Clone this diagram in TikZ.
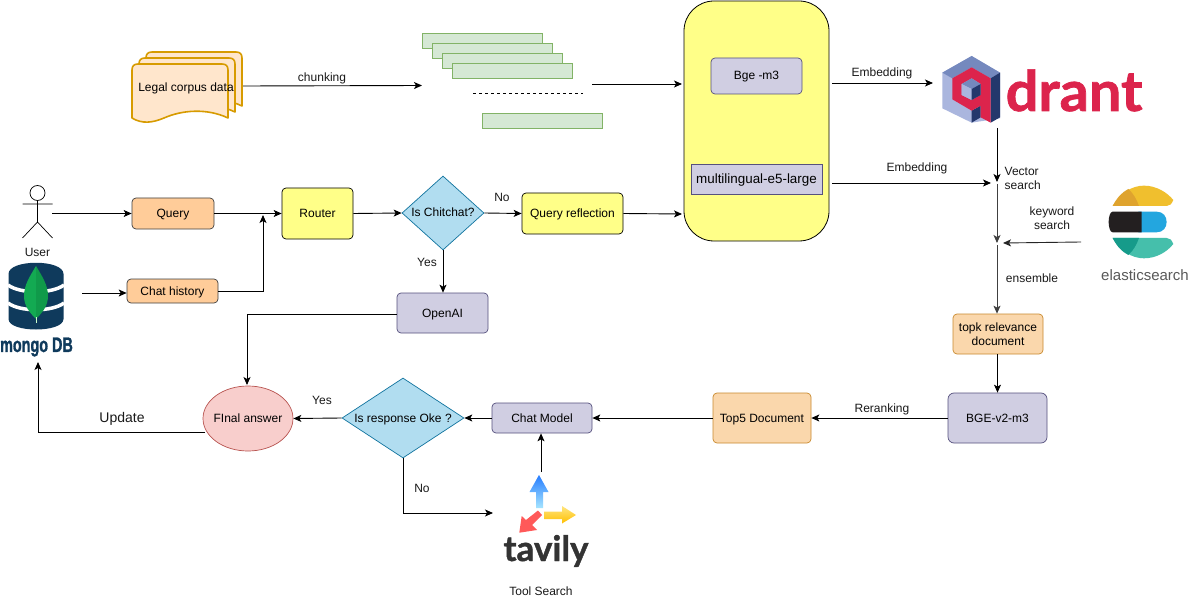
\documentclass[tikz,border=0pt]{standalone}
\usepackage{fontspec}
\setmainfont{Liberation Sans}
\newfontfamily\logofont[FakeBold=1.2]{Lato Bold}
\newfontfamily\mongofont[FakeBold=1.4]{Liberation Sans Bold}
\usetikzlibrary{arrows.meta,shapes.geometric}
\definecolor{peach}{HTML}{FFCC99}
\definecolor{peachb}{HTML}{FAD7AC}
\definecolor{peachd}{HTML}{C98A2E}
\definecolor{lemon}{HTML}{FFFF88}
\definecolor{lav}{HTML}{D0CEE2}
\definecolor{lavb}{HTML}{56517E}
\definecolor{sky}{HTML}{B1DDF0}
\definecolor{skyb}{HTML}{10739E}
\definecolor{mint}{HTML}{D5E8D4}
\definecolor{mintb}{HTML}{82B366}
\definecolor{navy}{HTML}{0F3A5C}
\definecolor{qred}{HTML}{DC244C}
\definecolor{qdark}{HTML}{24386C}
\definecolor{qmid}{HTML}{7589BE}
\definecolor{qlight}{HTML}{AAB6DE}
\definecolor{docfill}{HTML}{FFE6CC}
\definecolor{docline}{HTML}{D79B00}
\definecolor{rosefill}{HTML}{F8CECC}
\definecolor{roseline}{HTML}{B85450}
\definecolor{eyellow}{HTML}{F0BF2E}
\definecolor{eyellowd}{HTML}{DFA32E}
\definecolor{eblue}{HTML}{23A6DF}
\definecolor{eblack}{HTML}{231F20}
\definecolor{eteal}{HTML}{45BFAB}
\definecolor{etheald}{HTML}{169B8A}
\definecolor{leafa}{HTML}{13AA52}
\definecolor{leafb}{HTML}{109A4A}
\tikzset{
  arr/.style={draw=black,line width=.9pt,-{Stealth[length=8pt,width=7pt,inset=2pt]}},
  oneline/.style={text height=9pt,text depth=1pt},
  lblm/.style={font=\fontsize{12}{14}\selectfont,text=black!90,align=center,inner sep=0pt},
  lbl/.style={lblm,oneline},
  boxm/.style={rounded corners=4pt,font=\fontsize{12}{14}\selectfont,align=center,inner sep=0pt,line width=.7pt},
  box/.style={boxm,oneline},
  orangebox/.style={box,draw=black!75,fill=peach},
  orangesoft/.style={draw=peachd,fill=peachb},
  yellowbox/.style={box,draw=black,fill=lemon},
  lavbox/.style={box,draw=lavb,fill=lav},
  chunk/.style={draw=mintb,fill=mint,line width=.8pt,minimum width=120pt,minimum height=15pt,inner sep=0pt},
  deci/.style={diamond,aspect=1,draw=skyb,fill=sky,font=\fontsize{12}{14}\selectfont,inner sep=0pt,line width=.7pt,oneline},
  docsheet/.style={draw=docline,fill=docfill,line width=1.6pt,line join=round},
}
\newcommand{\docpath}{(0,12) .. controls (0,8) and (2,6) .. (6,6) -- (90,6) .. controls (94,6) and (96,8) .. (96,12) -- (96,60) .. controls (75,50) and (50,52) .. (32,60) .. controls (20,65) and (10,66) .. (0,60) -- cycle}
\begin{document}
\begin{tikzpicture}[x=1pt,y=-1pt]
\useasboundingbox (0,0) rectangle (1203,607);
\fill[white] (0,0) rectangle (1203,607);

% legal corpus stack
\begin{scope}[shift={(146,46)}]\draw[docsheet] \docpath;\end{scope}
\begin{scope}[shift={(139,52)}]\draw[docsheet] \docpath;\end{scope}
\begin{scope}[shift={(132,58)}]\draw[docsheet] \docpath;\end{scope}
\node[lbl,text=black] (legal) at (186,88) {Legal corpus data};
\coordinate (legalout) at (243,86);
\coordinate (chunkin) at (422,85.5);
\draw[arr] (legalout) -- (chunkin);
\node[lbl] (chunking) at (322,78) {chunking};

% chunks
\node[chunk] (c1) at (482.5,40.5) {};
\node[chunk] (c2) at (492.5,50.5) {};
\node[chunk] (c3) at (502.5,60.5) {};
\node[chunk] (c4) at (512.5,70.5) {};
\node[chunk] (c5) at (542.5,120.5) {};
\coordinate (dashl) at (473,93);
\coordinate (dashr) at (583,93);
\draw[dashed,line width=.8pt,dash pattern=on 3pt off 3pt] (dashl) -- (dashr);
\coordinate (chunkout) at (592,84);

% embedding block
\node[draw=black,fill=lemon,rounded corners=30pt,minimum width=145pt,minimum height=240pt,inner sep=0pt,line width=.8pt] (embed) at (756.5,121) {};
\node[lavbox,minimum width=91pt,minimum height=36pt] (bge) at (756.5,76) {Bge -m3};
\node[draw=lavb,fill=lav,minimum width=131pt,minimum height=30pt,inner sep=0pt,font=\fontsize{13.4}{15}\selectfont,line width=.7pt,text height=9.6pt,text depth=1pt] (multi) at (756.5,179) {multilingual-e5-large};
\coordinate (embedinA) at (682,84);
\draw[arr] (chunkout) -- (embedinA);
\coordinate (embedoutA) at (832,83);
\coordinate (qin) at (933,83);
\draw[arr] (embedoutA) -- (qin);
\node[lbl] (e1) at (882,73) {Embedding};
\coordinate (embedoutB) at (832,183);
\coordinate (vecin) at (991,183);
\draw[arr] (embedoutB) -- (vecin);
\node[lbl] (e2) at (917,168) {Embedding};

% qdrant logo
\begin{scope}[shift={(920,40)},x=.3333pt,y=-.3333pt]
\fill[qlight] (155,48)--(240,98)--(240,235)--(155,248)--(67,205)--(67,98)--cycle;
\fill[qmid] (155,48)--(240,98)--(212,115)--(155,82)--(97,115)--(67,98)--cycle;
\fill[qdark] (240,98)--(240,232)--(212,248)--(212,115)--cycle;
\fill[qdark] (155,212)--(182,197)--(182,232)--(155,248)--cycle;
\fill[qred,even odd rule] (155,82)--(212,115)--(212,248)--(182,232)--(182,197)--(155,212)--(97,178)--(97,115)--cycle
  (155,115)--(182,132)--(182,165)--(155,180)--(125,165)--(125,132)--cycle;
\fill[qmid] (155,115)--(182,132)--(155,147)--(125,132)--cycle;
\fill[qlight] (125,132)--(155,147)--(155,180)--(125,165)--cycle;
\fill[qdark] (155,147)--(182,132)--(182,165)--(155,180)--cycle;
\end{scope}
\node[inner sep=0pt,text=qred,font=\logofont\fontsize{56}{60}\selectfont,anchor=base west] (qdrant) at (1005.5,111) {\scalebox{1.03}[1]{drant}};

% retrieval trunk
\coordinate (qout) at (997,128);
\coordinate (vecjoin) at (997,182);
\coordinate (ensjoin) at (997,243);
\draw[arr] (qout) -- (vecjoin);
\draw[arr,draw=black!75] (997,184) -- (ensjoin);
\node[lblm,align=left,anchor=west] (vec) at (1004.5,178.5) {Vector\\search};
\node[lblm] (kw) at (1052,218.5) {keyword\\search};
\node[lbl] (ens) at (1032,278) {ensemble};
\coordinate (elasticout) at (1081,242);
\coordinate (kwin) at (1003,243);
\draw[arr,draw=black!85] (elasticout) -- (kwin);

% elasticsearch logo
\begin{scope}[shift={(920,40)},x=.3333pt,y=-.3333pt]
\fill[eyellow] (578,498) .. controls (600,460) and (635,437) .. (672,437) .. controls (710,437) and (742,458) .. (760,480) .. controls (755,492) and (750,498) .. (740,498) -- cycle;
\fill[eyellowd] (578,498) .. controls (590,475) and (605,457) .. (625,447) .. controls (640,460) and (650,478) .. (657,498) -- cycle;
\fill[eblue] (655,515) -- (710,515) .. controls (730,515) and (740,530) .. (740,546) .. controls (740,562) and (730,577) .. (710,577) -- (655,577) -- cycle;
\fill[eblack] (578,515) -- (665,515) -- (665,577) -- (578,577) .. controls (570,577) and (566,560) .. (566,546) .. controls (566,532) and (570,515) .. (578,515) -- cycle;
\fill[eteal] (578,594) -- (740,594) .. controls (750,594) and (755,600) .. (760,612) .. controls (742,635) and (710,655) .. (672,655) .. controls (635,655) and (600,632) .. (578,594) -- cycle;
\fill[etheald] (578,594) -- (657,594) .. controls (650,614) and (640,632) .. (625,645) .. controls (605,635) and (590,618) .. (578,594) -- cycle;
\end{scope}
\node[inner sep=0pt,text=black!65,font=\fontsize{15}{16}\selectfont,text height=11pt,text depth=3pt] (elastic) at (1145,276) {elasticsearch};

% lower right pipeline
\node[boxm,orangesoft,minimum width=90pt,minimum height=40pt] (topk) at (998,334) {topk relevance\\document};
\draw[arr,draw=black!75] (ensjoin |- 0,245) -- (ensjoin |- topk.north);
\node[lavbox,rounded corners=6pt,minimum width=99pt,minimum height=50pt] (rerank) at (997.5,418) {BGE-v2-m3};
\draw[arr] (topk.south -| rerank) -- (rerank.north);
\node[box,orangesoft,minimum width=98pt,minimum height=50pt] (top5) at (762,418) {Top5 Document};
\draw[arr] (rerank.west) -- (top5.east);
\node[lbl] (rrk) at (882,408) {Reranking};
\node[lavbox,minimum width=100pt,minimum height=30pt] (chat) at (542,418) {Chat Model};
\draw[arr] (top5.west) -- (chat.east);
\node[deci,minimum width=122pt,minimum height=80pt,aspect=1.52] (oke) at (403,418) {Is response Oke ?};
\draw[arr] (chat.west) -- (oke.east);
\node[ellipse,draw=roseline,fill=rosefill,minimum width=90pt,minimum height=65pt,inner sep=0pt,inner xsep=-6pt,font=\fontsize{12}{14}\selectfont,line width=.7pt,oneline] (final) at (248,418.5) {FInal answer};
\draw[arr] (oke.west) -- (final.east);
\node[lbl] (yes2) at (322,400) {Yes};
\coordinate (toolin) at (493,513);
\draw[arr] (oke.south) |- (toolin);
\node[lbl] (no2) at (422,488) {No};
\coordinate (toolout) at (541,472);
\draw[arr] (toolout) -- (toolout |- chat.south);

% tavily logo
\shade[top color=blue!60!cyan!85!white,bottom color=blue!30!cyan!35!white] (539,475) -- (548.5,492) -- (543,492) -- (543,508) -- (536,508) -- (536,492) -- (529.5,492) -- cycle;
\shade[top color=yellow!60!orange!50!white,bottom color=orange!50!yellow] (576,515) -- (562,506) -- (562,511.5) -- (544,511.5) -- (544,519) -- (562,519) -- (562,523.5) -- cycle;
\fill[red!65!white] (519.3,532.7) -- (521.7,516) -- (526,520) -- (538,510.5) -- (542,515) -- (532,525) -- (537,530) -- cycle;
\node[inner sep=0pt,text=black!80,font=\logofont\fontsize{35}{38}\selectfont,anchor=base] (tavily) at (546,561) {tavily};
\node[lbl] (tool) at (541,591) {Tool Search};

% left column
\coordinate (headc) at (37.5,193);
\draw[line width=.7pt] (headc) circle[radius=7.5pt];
\coordinate (neck) at (37.5,200.5);
\coordinate (hip) at (37.5,222);
\coordinate (footl) at (22.5,238);
\coordinate (footr) at (52.5,238);
\coordinate (arml) at (22.5,204);
\coordinate (armr) at (52.5,204);
\draw[line width=.7pt] (neck) -- (hip) (footl) -- (hip) -- (footr) (arml) -- (armr);
\node[lbl] (user) at (37.5,252) {User};

% mongo logo
\fill[navy] (8.5,274) .. controls (8.5,259) and (63.5,259) .. (63.5,274) -- (63.5,319) .. controls (63.5,333) and (8.5,333) .. (8.5,319) -- cycle;
\draw[white,line width=3.5pt] (8,285) .. controls (20,294) and (52,294) .. (64,285);
\draw[white,line width=3.5pt] (8,303) .. controls (20,312) and (52,312) .. (64,303);
\fill[leafa] (36,266) .. controls (30,276) and (24,285) .. (24,296) .. controls (24,306) and (30,313) .. (36,319) -- cycle;
\fill[leafb] (36,266) .. controls (42,276) and (48,285) .. (48,296) .. controls (48,306) and (42,313) .. (36,319) -- cycle;
\draw[green!20!white,line width=.8pt] (36,317) -- (36,323);
\node[inner sep=0pt,text=navy,font=\mongofont\fontsize{20}{22}\selectfont] (mongo) at (36.5,347) {\scalebox{.72}[1.05]{mongo DB}};

\node[orangebox,minimum width=82pt,minimum height=31pt] (query) at (173,213.5) {Query};
\node[orangebox,minimum width=91pt,minimum height=24pt] (hist) at (172.5,291) {Chat history};
\node[yellowbox,minimum width=71pt,minimum height=51pt] (router) at (317.5,213.5) {Router};
\node[deci,minimum width=82pt,minimum height=74pt,aspect=1.1] (chit) at (443,213) {Is Chitchat?};
\node[yellowbox,minimum width=101pt,minimum height=41pt] (reflect) at (572.5,213.5) {Query reflection};
\node[lavbox,minimum width=91pt,minimum height=40pt] (openai) at (442.5,313) {OpenAI};

\coordinate (userout) at (52,213.5);
\draw[arr] (userout) -- (query.west);
\draw[arr] (query.east) -- (router.west);
\coordinate (mongoout) at (82,293);
\draw[arr] (mongoout) -- (hist.west |- mongoout);
\coordinate (histjoin) at (263,291);
\draw[arr] (hist.east) -- (histjoin) -- (263,215);
\draw[arr] (router.east) -- (chit.west);
\draw[arr] (chit.east) -- (reflect.west);
\node[lbl] (no1) at (502,198) {No};
\coordinate (embedinB) at (682,214);
\draw[arr] (reflect.east) -- (embedinB);
\draw[arr] (chit.south) -- (openai.north -| chit.south);
\node[lbl] (yes1) at (427,262) {Yes};
\coordinate (openaijoin) at (247,314);
\coordinate (finalin) at (247,385);
\draw[arr] (openai.west |- openaijoin) -- (openaijoin) -- (finalin);
\coordinate (finalout) at (205,432);
\coordinate (mongoin) at (38,362);
\draw[arr] (finalout) -- (38,432) -- (mongoin);
\node[lbl,font=\fontsize{14}{16}\selectfont,text height=10pt] (update) at (122,418) {Update};
\end{tikzpicture}
\end{document}
